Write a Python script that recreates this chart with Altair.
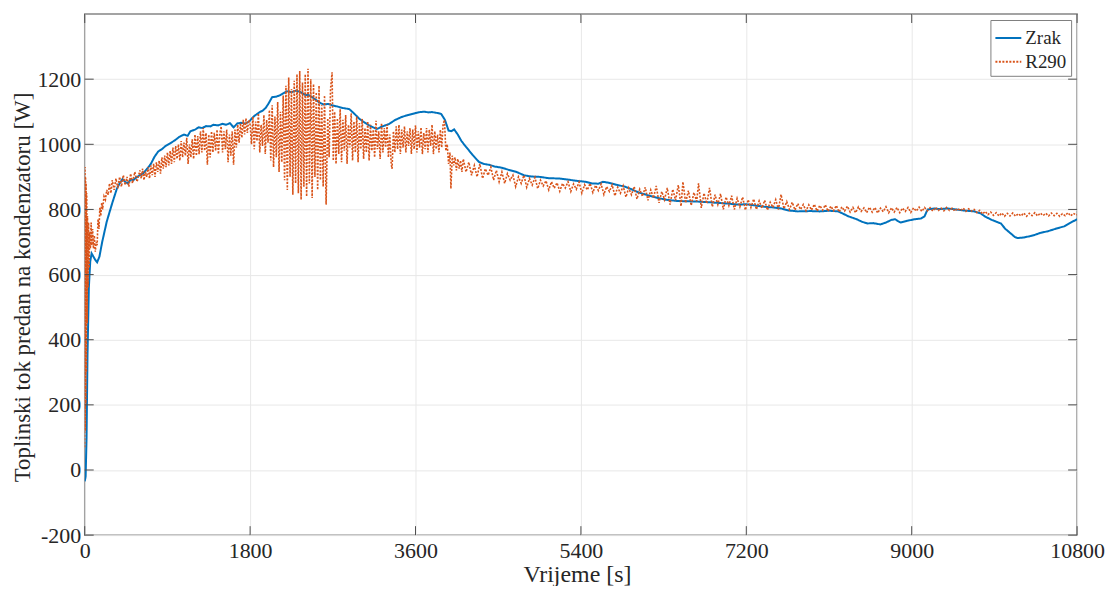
import altair as alt
import pandas as pd

# ---------------- data ----------------
SERIES = ["Zrak", "R290"]
COLORS = ["#0072BD", "#D95319"]
X_TICKS = [0, 1800, 3600, 5400, 7200, 9000, 10800]
Y_TICKS = [-200, 0, 200, 400, 600, 800, 1000, 1200]

ZRAK = [(0, -35), (10, -20), (20, 100), (30, 350), (45, 560), (60, 640), (75, 665), (95, 655),
        (115, 645), (135, 638), (160, 655), (190, 700), (240, 763), (300, 820), (350, 864),
        (380, 880), (410, 893), (440, 885), (470, 880), (500, 892), (530, 890), (560, 898),
        (600, 905), (640, 912), (680, 925), (720, 940), (760, 962), (800, 978), (840, 985),
        (880, 995), (930, 1003), (980, 1012), (1030, 1023), (1080, 1030), (1120, 1026),
        (1150, 1040), (1200, 1045), (1240, 1052), (1280, 1050), (1320, 1056), (1370, 1055),
        (1400, 1060), (1450, 1058), (1500, 1063), (1540, 1060), (1580, 1065), (1620, 1052),
        (1660, 1064), (1700, 1066), (1750, 1064), (1790, 1070), (1820, 1080), (1850, 1088),
        (1900, 1098), (1940, 1104), (1970, 1112), (2000, 1125), (2040, 1145), (2080, 1146),
        (2120, 1150), (2160, 1156), (2200, 1163), (2250, 1160), (2300, 1165), (2350, 1160),
        (2400, 1152), (2440, 1151), (2500, 1140), (2550, 1129), (2600, 1122), (2650, 1124),
        (2690, 1120), (2750, 1116), (2800, 1112), (2880, 1108), (2930, 1095), (2990, 1078),
        (3040, 1068), (3090, 1059), (3140, 1052), (3180, 1047), (3240, 1055), (3310, 1062),
        (3380, 1075), (3450, 1084), (3520, 1090), (3600, 1096), (3650, 1099), (3700, 1100),
        (3740, 1098), (3780, 1099), (3840, 1096), (3880, 1093), (3920, 1075), (3960, 1042),
        (3990, 1040), (4020, 1046), (4060, 1030), (4100, 1010), (4150, 992), (4220, 968),
        (4290, 946), (4340, 940), (4400, 937), (4460, 932), (4540, 928), (4610, 922),
        (4700, 915), (4780, 905), (4860, 901), (4950, 900), (5050, 896), (5160, 895),
        (5250, 892), (5350, 888), (5450, 885), (5520, 880), (5590, 879), (5640, 885),
        (5700, 882), (5780, 876), (5880, 870), (5950, 862), (6030, 852), (6100, 846),
        (6200, 838), (6320, 830), (6450, 826), (6560, 825), (6680, 824), (6800, 822),
        (6900, 820), (7000, 818), (7110, 815), (7200, 816), (7300, 812), (7400, 808),
        (7500, 806), (7580, 803), (7660, 797), (7760, 794), (7900, 795), (8000, 794),
        (8100, 796), (8200, 794), (8260, 786), (8310, 779), (8400, 770), (8460, 762),
        (8520, 757), (8580, 758), (8660, 754), (8720, 760), (8780, 768), (8820, 770),
        (8850, 764), (8880, 760), (8950, 765), (9030, 770), (9100, 772), (9140, 779),
        (9160, 792), (9175, 800), (9250, 803), (9300, 801), (9390, 803), (9480, 800),
        (9560, 797), (9680, 794), (9750, 788), (9800, 778), (9870, 768), (9970, 757),
        (10020, 740), (10075, 727), (10120, 716), (10150, 712), (10220, 714), (10290, 718),
        (10340, 722), (10400, 728), (10480, 733), (10560, 740), (10620, 745), (10660, 748),
        (10720, 758), (10800, 770)]

R290_START = [(0, 70), (3, 930), (6, 120), (9, 900), (12, 200), (15, 880), (18, 300),
              (22, 850), (26, 450), (30, 780), (36, 560), (42, 760), (48, 620), (54, 730),
              (62, 680), (70, 760), (78, 690), (86, 740), (95, 680), (105, 720), (115, 670),
              (125, 700), (135, 690), (145, 770), (155, 740), (165, 805), (175, 780),
              (185, 820), (195, 800), (210, 840), (225, 830), (240, 860), (255, 845),
              (270, 880), (285, 850), (300, 890), (320, 860), (340, 895), (360, 865),
              (380, 900), (400, 870), (420, 905), (440, 875), (460, 900), (480, 870),
              (500, 910), (520, 880), (545, 915), (570, 885)]

R290_RISE = [(600, 920), (615, 895), (630, 925), (645, 890), (660, 915), (675, 900),
             (690, 930), (705, 895), (720, 935), (735, 905), (750, 940), (765, 900),
             (780, 945), (795, 915), (810, 950), (825, 910), (840, 960), (855, 925),
             (870, 965), (885, 930), (900, 975), (915, 935), (930, 980), (945, 940),
             (960, 990), (975, 945), (990, 995), (1005, 955), (1020, 1000), (1035, 950),
             (1050, 1010), (1065, 960), (1080, 1005), (1095, 965), (1110, 1020), (1125, 940),
             (1140, 1000), (1155, 960), (1170, 1015), (1185, 955), (1200, 1030), (1215, 965),
             (1230, 1025), (1245, 970), (1260, 1040), (1275, 975), (1290, 1050), (1305, 980),
             (1320, 1035), (1335, 937), (1350, 1030), (1365, 960), (1380, 1040), (1395, 975),
             (1410, 1035), (1425, 980), (1440, 1045), (1455, 970), (1470, 1030), (1485, 1055),
             (1500, 975), (1515, 1040), (1530, 985), (1545, 1045), (1560, 945), (1575, 1030),
             (1590, 965), (1605, 1040), (1620, 937), (1635, 1045), (1650, 990), (1665, 1060),
             (1680, 1005), (1695, 1065), (1710, 1020), (1725, 1075), (1740, 1030),
             (1755, 1080), (1770, 1035), (1785, 1075)]

R290_OSC = [(1800, 1060), (1815, 1000), (1830, 1085), (1845, 985), (1860, 1070), (1875, 1010),
            (1890, 1095), (1905, 975), (1920, 1060), (1935, 995), (1950, 1090), (1965, 970),
            (1980, 1075), (1995, 1005), (2010, 1105), (2025, 950), (2040, 1120), (2055, 930),
            (2070, 1085), (2085, 960), (2100, 1130), (2115, 915), (2130, 1100), (2145, 945),
            (2160, 1150), (2175, 890), (2190, 1180), (2205, 860), (2220, 1205), (2235, 900),
            (2250, 1170), (2265, 845), (2280, 1195), (2295, 880), (2310, 1215), (2325, 850),
            (2340, 1225), (2355, 830), (2370, 1190), (2385, 870), (2400, 1215), (2415, 840),
            (2430, 1232), (2445, 880), (2460, 1200), (2475, 835), (2490, 1185), (2505, 900),
            (2520, 1160), (2535, 860), (2550, 1180), (2565, 890), (2580, 1120), (2595, 870),
            (2610, 1150), (2627, 815), (2645, 1080), (2660, 960), (2675, 1170), (2692, 1221),
            (2705, 950), (2720, 1100), (2735, 940), (2750, 1080), (2765, 970), (2780, 1108),
            (2795, 945), (2810, 1075), (2825, 980), (2840, 1090), (2855, 940), (2870, 1060),
            (2885, 990), (2900, 1095), (2915, 950), (2930, 1070), (2945, 975), (2960, 1085),
            (2975, 945), (2990, 1065), (3005, 985), (3020, 1078), (3035, 955), (3050, 1050),
            (3065, 975), (3080, 1070), (3095, 950), (3110, 1060), (3125, 980), (3140, 1045),
            (3155, 960), (3170, 1072), (3185, 985), (3200, 1040), (3215, 955), (3230, 1065),
            (3245, 975), (3260, 1050), (3275, 990), (3290, 1060), (3305, 960), (3320, 1030),
            (3335, 940), (3345, 925), (3360, 1040), (3375, 975), (3390, 1055), (3405, 985),
            (3420, 1060), (3435, 970), (3450, 1045), (3465, 990), (3480, 1055), (3495, 975),
            (3510, 1040), (3525, 995), (3540, 1050), (3555, 970), (3570, 1045), (3585, 985),
            (3600, 1058), (3615, 975), (3630, 1040), (3645, 990), (3660, 1052), (3675, 970),
            (3690, 1035), (3705, 985), (3720, 1050), (3735, 975), (3750, 1045), (3765, 995),
            (3780, 1060), (3795, 970), (3810, 1040), (3825, 985), (3840, 1030), (3855, 975),
            (3870, 1045), (3885, 990), (3900, 1060), (3915, 1075), (3930, 980), (3945, 1000),
            (3960, 940), (3975, 975), (3985, 864), (4000, 965), (4015, 935), (4030, 960),
            (4045, 920), (4060, 955), (4075, 925), (4090, 950), (4105, 915)]

R290_MID = [(4120, 955), (4150, 915), (4180, 945), (4210, 905), (4240, 935), (4270, 900),
            (4300, 940), (4330, 895), (4360, 925), (4390, 905), (4420, 930), (4450, 890),
            (4480, 920), (4510, 885), (4540, 915), (4570, 880), (4600, 910), (4630, 890),
            (4660, 905), (4690, 870), (4720, 900), (4750, 880), (4780, 905), (4810, 868),
            (4840, 895), (4870, 875), (4900, 898), (4930, 864), (4960, 890), (4990, 872),
            (5020, 888), (5050, 860), (5080, 885), (5110, 865), (5140, 882), (5170, 856),
            (5200, 880), (5230, 866), (5260, 885), (5290, 855), (5320, 878), (5350, 862),
            (5380, 884), (5410, 850), (5440, 876), (5470, 860), (5500, 880), (5530, 852),
            (5560, 874), (5590, 858), (5620, 878), (5650, 846), (5680, 870), (5710, 855),
            (5740, 875), (5770, 842), (5800, 868), (5830, 850), (5860, 872), (5890, 838),
            (5920, 866), (5950, 845), (5980, 870), (6010, 832), (6040, 862), (6070, 840),
            (6100, 868), (6130, 828), (6160, 860), (6190, 835), (6220, 872), (6250, 820),
            (6280, 855), (6310, 830), (6340, 866), (6370, 815), (6400, 862), (6430, 828),
            (6460, 875), (6490, 810), (6510, 885), (6540, 820), (6570, 858), (6600, 812),
            (6630, 852), (6660, 825), (6680, 880), (6710, 805), (6740, 850), (6770, 818),
            (6800, 866), (6830, 808), (6860, 845), (6890, 815), (6920, 848), (6950, 800),
            (6980, 838), (7010, 812), (7040, 842), (7070, 800), (7100, 834), (7130, 808),
            (7160, 838), (7190, 798), (7220, 830), (7250, 806), (7280, 832), (7310, 800),
            (7340, 826), (7370, 804), (7400, 828), (7430, 798), (7460, 822), (7490, 806),
            (7520, 830), (7550, 800), (7578, 846), (7610, 802), (7640, 824), (7670, 800),
            (7700, 822), (7730, 798), (7760, 818), (7790, 800)]

R290_TAIL = [(7820, 815), (7850, 796), (7880, 814), (7910, 798), (7940, 816), (7970, 795),
             (8000, 812), (8030, 798), (8060, 814), (8090, 794), (8120, 810), (8150, 796),
             (8180, 812), (8210, 792), (8240, 808), (8270, 795), (8300, 810), (8330, 792),
             (8360, 806), (8390, 790), (8420, 808), (8450, 794), (8480, 805), (8510, 790),
             (8540, 807), (8570, 792), (8600, 806), (8630, 789), (8660, 804), (8690, 793),
             (8720, 808), (8750, 790), (8780, 805), (8810, 792), (8840, 806), (8870, 790),
             (8900, 804), (8930, 794), (8960, 806), (8990, 791), (9020, 805), (9050, 795),
             (9080, 807), (9110, 794), (9140, 806), (9170, 796), (9200, 805), (9230, 795),
             (9260, 806), (9290, 797), (9320, 804), (9350, 796), (9380, 806), (9410, 797),
             (9440, 804), (9470, 795), (9500, 803), (9530, 796), (9560, 804), (9590, 794),
             (9620, 802), (9650, 795), (9680, 800), (9710, 790), (9740, 797), (9770, 786),
             (9800, 794), (9830, 784), (9860, 792), (9890, 782), (9920, 790), (9950, 780),
             (9980, 789), (10010, 779), (10040, 788), (10070, 780), (10100, 789), (10130, 779),
             (10160, 787), (10190, 780), (10220, 789), (10250, 779), (10280, 788), (10310, 781),
             (10340, 790), (10370, 780), (10400, 789), (10430, 781), (10460, 788), (10490, 780),
             (10520, 789), (10550, 781), (10580, 788), (10610, 779), (10640, 787), (10670, 781),
             (10700, 790), (10730, 780), (10760, 788), (10790, 783), (10800, 784)]

# ---------------- chart ----------------
W, H = 996, 523
FONT = "Liberation Serif"
TXT = "#262626"
BOX = "#858585"
TICK = "#4d4d4d"

zrak = pd.DataFrame({"t": [p[0] for p in ZRAK], "q": [p[1] for p in ZRAK], "s": "Zrak"})
r290_pts = R290_START + R290_RISE + R290_OSC + R290_MID + R290_TAIL
r290 = pd.DataFrame({"t": [p[0] for p in r290_pts], "q": [p[1] for p in r290_pts], "s": "R290"})
xt = pd.DataFrame({"v": X_TICKS})
yt = pd.DataFrame({"v": Y_TICKS})

xscale = alt.Scale(domain=[0, 10800], nice=False, zero=False)
yscale = alt.Scale(domain=[-200, 1400], nice=False, zero=False)
cscale = alt.Scale(domain=SERIES, range=COLORS)
dscale = alt.Scale(domain=SERIES, range=[[1, 0], [2, 1.5]])
leg = alt.Legend(title=None)

xaxis = alt.Axis(values=X_TICKS, title="Vrijeme [s]", labelExpr="'' + datum.value",
                 labelFlush=False, labelOverlap=False, labelPadding=5, ticks=False,
                 tickSize=0, domain=False, grid=True, titleFontSize=24,
                 titleBaseline="alphabetic", titleY=47, titleX=494)
yaxis = alt.Axis(values=Y_TICKS, title="Toplinski tok predan na kondenzatoru [W]",
                 labelExpr="'' + datum.value", labelFlush=False, labelOverlap=False,
                 labelPadding=4, ticks=False, tickSize=0, domain=False, grid=True,
                 titleFontSize=23, titleBaseline="alphabetic", titleX=-55, titleY=274,
                 titleAngle=270)

X = lambda f: alt.X(f, scale=xscale, axis=xaxis)
Y = lambda f: alt.Y(f, scale=yscale, axis=yaxis)

line_zrak = alt.Chart(zrak).mark_line(strokeWidth=2, clip=True).encode(
    x=X("t:Q"), y=Y("q:Q"),
    color=alt.Color("s:N", scale=cscale, legend=leg),
    strokeDash=alt.StrokeDash("s:N", scale=dscale, legend=leg),
)
line_r290 = alt.Chart(r290).mark_line(strokeWidth=1.6, clip=True).encode(
    x=X("t:Q"), y=Y("q:Q"),
    color=alt.Color("s:N", scale=cscale, legend=leg),
    strokeDash=alt.StrokeDash("s:N", scale=dscale, legend=leg),
)

tick_bottom = alt.Chart(xt).mark_rule(color=TICK, strokeWidth=1).encode(
    x=X("v:Q"), y=alt.value(H), y2=alt.value(H - 9))
tick_top = alt.Chart(xt).mark_rule(color=TICK, strokeWidth=1).encode(
    x=X("v:Q"), y=alt.value(0), y2=alt.value(9))
tick_left = alt.Chart(yt).mark_rule(color=TICK, strokeWidth=1).encode(
    y=Y("v:Q"), x=alt.value(0), x2=alt.value(9))
tick_right = alt.Chart(yt).mark_rule(color=TICK, strokeWidth=1).encode(
    y=Y("v:Q"), x=alt.value(W), x2=alt.value(W - 9))

chart = alt.layer(
    line_zrak, line_r290, tick_bottom, tick_top, tick_left, tick_right
).properties(
    width=W, height=H,
    autosize=alt.AutoSizeParams(type="none"),
    padding={"left": 77, "top": 5, "right": 28, "bottom": 50},
    background="white",
).configure_view(
    stroke=BOX, strokeWidth=1.5
).configure_axis(
    labelFont=FONT, labelFontSize=22, labelColor=TXT,
    titleFont=FONT, titleColor=TXT, titleFontWeight="normal",
    gridColor="#e8e8e8", gridWidth=1,
).configure_legend(
    orient="top-right", offset=6, padding=4, fillColor="white",
    strokeColor="#808080", strokeWidth=1,
    labelFont=FONT, labelFontSize=19, labelColor=TXT, labelOffset=3,
    symbolType="stroke", symbolSize=676, symbolStrokeWidth=2, rowPadding=0,
)

chart.save("out.html", embed_options={"renderer": "svg", "actions": False})
